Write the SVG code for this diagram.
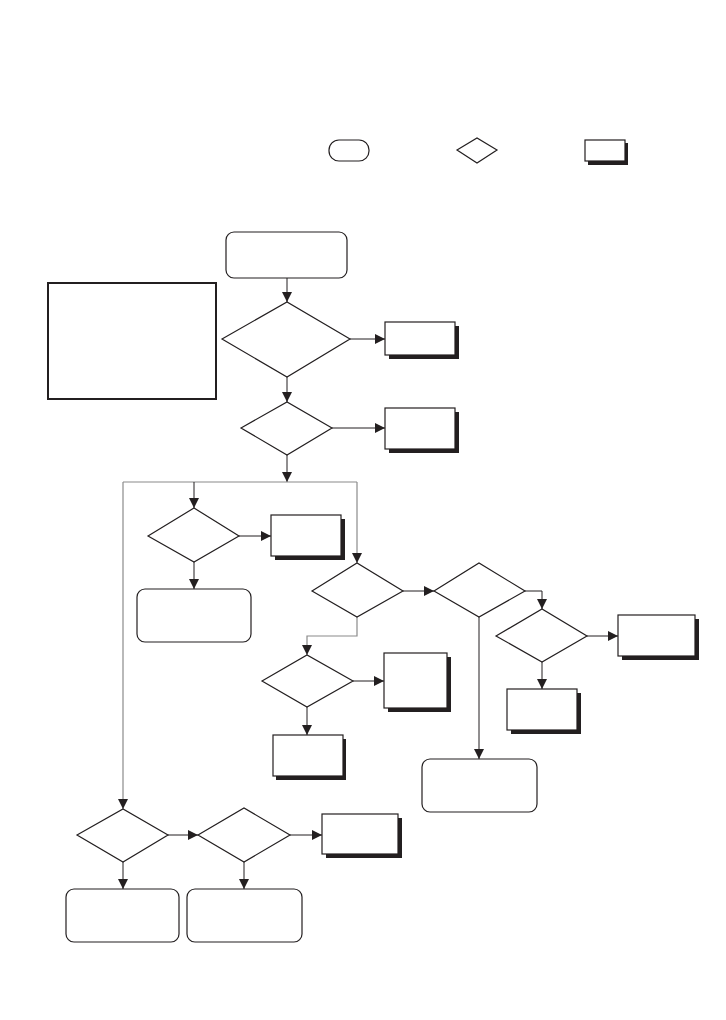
<svg xmlns="http://www.w3.org/2000/svg" width="726" height="1020" viewBox="0 0 726 1020">
<style>
.n{fill:#fff;stroke:#231f20;stroke-width:1.2}
.sh{fill:#231f20}
.c{fill:none;stroke:#231f20;stroke-width:1}
.g{fill:none;stroke:#8a8a8a;stroke-width:1.2}
</style>
<defs>
<marker id="a" viewBox="0 0 10 10" refX="10" refY="5" markerWidth="10" markerHeight="10" markerUnits="userSpaceOnUse" orient="auto"><path d="M0,0 L10,5 L0,10 z" fill="#231f20"/></marker>
</defs>
<rect width="726" height="1020" fill="#fff"/>
<g id="legend">
<rect class="n" x="329" y="140" width="40" height="21" rx="10"/>
<polygon class="n" points="457,150 477,138 497,150 477,163"/>
<rect class="sh" x="588" y="143" width="40" height="22"/>
<rect class="n" x="585" y="140" width="40" height="21"/>
</g>
<g id="connectors">
<path class="c" d="M287,278 V302" marker-end="url(#a)"/>
<path class="c" d="M350,339 H385" marker-end="url(#a)"/>
<path class="c" d="M287,377 V402" marker-end="url(#a)"/>
<path class="c" d="M332,428 H385" marker-end="url(#a)"/>
<path class="c" d="M287,455 V482" marker-end="url(#a)"/>
<path class="g" d="M123,482 H357"/>
<path class="g" d="M123,482 V809" marker-end="url(#a)"/>
<path class="c" d="M194,482 V508" marker-end="url(#a)"/>
<path class="g" d="M357,482 V563" marker-end="url(#a)"/>
<path class="c" d="M239,536 H271" marker-end="url(#a)"/>
<path class="c" d="M194,562 V589" marker-end="url(#a)"/>
<path class="g" d="M357,617 V636 H307 V655" marker-end="url(#a)"/>
<path class="c" d="M353,681 H384" marker-end="url(#a)"/>
<path class="c" d="M307,707 V735" marker-end="url(#a)"/>
<path class="c" d="M403,591 H434" marker-end="url(#a)"/>
<path class="c" d="M525,591 H542 V609" marker-end="url(#a)"/>
<path class="c" d="M587,636 H618" marker-end="url(#a)"/>
<path class="c" d="M542,662 V689" marker-end="url(#a)"/>
<path class="c" d="M479,617 V759" marker-end="url(#a)"/>
<path class="c" d="M168,835 H198" marker-end="url(#a)"/>
<path class="c" d="M290,835 H322" marker-end="url(#a)"/>
<path class="c" d="M123,862 V889" marker-end="url(#a)"/>
<path class="c" d="M244,862 V889" marker-end="url(#a)"/>
</g>
<g id="start"><rect class="n" x="226" y="232" width="121" height="46" rx="8"/></g>
<g id="note"><rect x="48" y="283" width="168" height="116" fill="#fff" stroke="#231f20" stroke-width="2"/></g>
<g id="d1"><polygon class="n" points="222,339 287,302 350,339 287,377"/></g>
<g id="b1"><rect class="sh" x="389" y="326" width="70" height="33"/><rect class="n" x="385" y="322" width="70" height="33"/></g>
<g id="d2"><polygon class="n" points="241,428 287,402 332,428 287,455"/></g>
<g id="b2"><rect class="sh" x="389" y="412" width="70" height="41"/><rect class="n" x="385" y="408" width="70" height="41"/></g>
<g id="d3"><polygon class="n" points="148,536 194,508 239,536 194,562"/></g>
<g id="b3"><rect class="sh" x="275" y="519" width="70" height="41"/><rect class="n" x="271" y="515" width="70" height="41"/></g>
<g id="r3"><rect class="n" x="137" y="589" width="114" height="53" rx="8"/></g>
<g id="d4"><polygon class="n" points="312,591 357,563 403,591 357,617"/></g>
<g id="d5"><polygon class="n" points="262,681 307,655 353,681 307,707"/></g>
<g id="b5"><rect class="sh" x="388" y="657" width="63" height="55"/><rect class="n" x="384" y="653" width="63" height="55"/></g>
<g id="b6"><rect class="sh" x="276" y="739" width="70" height="41"/><rect class="n" x="273" y="735" width="70" height="41"/></g>
<g id="d6"><polygon class="n" points="434,591 479,563 525,591 479,617"/></g>
<g id="d7"><polygon class="n" points="496,636 542,609 587,636 542,662"/></g>
<g id="b7"><rect class="sh" x="622" y="619" width="77" height="41"/><rect class="n" x="618" y="615" width="77" height="41"/></g>
<g id="b8"><rect class="sh" x="511" y="693" width="70" height="41"/><rect class="n" x="507" y="689" width="70" height="41"/></g>
<g id="r6"><rect class="n" x="422" y="759" width="115" height="53" rx="8"/></g>
<g id="d8"><polygon class="n" points="77,835 123,809 168,835 123,862"/></g>
<g id="d9"><polygon class="n" points="198,835 244,808 290,835 244,862"/></g>
<g id="b9"><rect class="sh" x="326" y="818" width="76" height="40"/><rect class="n" x="322" y="814" width="76" height="40"/></g>
<g id="r8"><rect class="n" x="66" y="889" width="113" height="53" rx="8"/></g>
<g id="r9"><rect class="n" x="187" y="889" width="115" height="53" rx="8"/></g>
</svg>
